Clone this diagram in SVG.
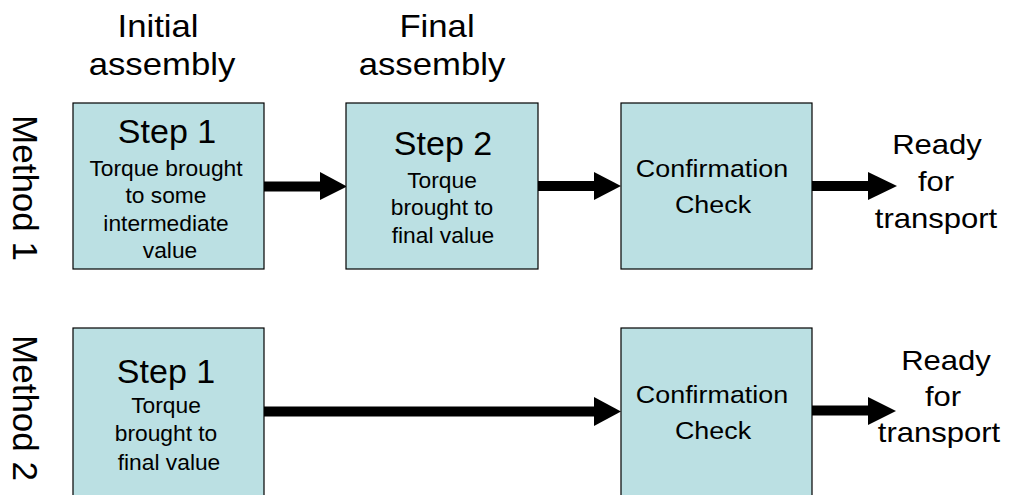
<svg xmlns="http://www.w3.org/2000/svg" width="1016" height="495" viewBox="0 0 1016 495">
<style>
text{font-family:"Liberation Sans",Arial,sans-serif;fill:#000;text-anchor:middle}
.box{fill:#BBE0E3;stroke:#000;stroke-width:1.2}
.hdr{font-size:31px}
.step{font-size:34px}
.sub{font-size:21.5px}
.conf{font-size:24px}
.ready{font-size:27px}
.meth{font-size:35px}
.shaft{stroke:#000;stroke-width:10;fill:none}
.head{fill:#000}
</style>
<rect width="1016" height="495" fill="#fff"/>
<g id="headers">
<text class="hdr" transform="matrix(1.12 0 0 1 158 0)" x="0" y="37">Initial</text>
<text class="hdr" transform="matrix(1.12 0 0 1 162 0)" x="0" y="75">assembly</text>
<text class="hdr" transform="matrix(1.12 0 0 1 437 0)" x="0" y="37">Final</text>
<text class="hdr" transform="matrix(1.12 0 0 1 432 0)" x="0" y="75">assembly</text>
</g>
<g id="method1-label"><text class="meth" transform="translate(13,188) rotate(90)">Method 1</text></g>
<g id="method2-label"><text class="meth" transform="translate(13,408) rotate(90)">Method 2</text></g>
<g id="connectors">
<line class="shaft" x1="264" y1="186.5" x2="322" y2="186.5"/>
<polygon class="head" points="320,172 347,186.5 320,200"/>
<line class="shaft" x1="538" y1="186" x2="596" y2="186"/>
<polygon class="head" points="594,172 621,186 594,200"/>
<line class="shaft" x1="812" y1="186" x2="870" y2="186"/>
<polygon class="head" points="868,172 897,186 868,200"/>
<line class="shaft" x1="264" y1="411.5" x2="596" y2="411.5"/>
<polygon class="head" points="594,397 621,411.5 594,426"/>
<line class="shaft" x1="812" y1="410.5" x2="870" y2="410.5"/>
<polygon class="head" points="868,397 896,411 868,425"/>
</g>
<g id="m1-step1">
<rect class="box" x="73" y="103" width="191" height="166"/>
<text class="step" x="167" y="143">Step 1</text>
<text class="sub" transform="matrix(1.06 0 0 1 166 0)" x="0" y="176">Torque brought</text>
<text class="sub" transform="matrix(1.06 0 0 1 166 0)" x="0" y="203">to some</text>
<text class="sub" transform="matrix(1.06 0 0 1 166 0)" x="0" y="231">intermediate</text>
<text class="sub" transform="matrix(1.06 0 0 1 170 0)" x="0" y="258">value</text>
</g>
<g id="m1-step2">
<rect class="box" x="346" y="103" width="192" height="166"/>
<text class="step" x="443" y="155">Step 2</text>
<text class="sub" transform="matrix(1.06 0 0 1 442 0)" x="0" y="188">Torque</text>
<text class="sub" transform="matrix(1.06 0 0 1 442 0)" x="0" y="215">brought to</text>
<text class="sub" transform="matrix(1.06 0 0 1 443 0)" x="0" y="243">final value</text>
</g>
<g id="m1-check">
<rect class="box" x="621" y="103" width="191" height="166"/>
<text class="conf" transform="matrix(1.12 0 0 1 712 0)" x="0" y="177">Confirmation</text>
<text class="conf" transform="matrix(1.12 0 0 1 713 0)" x="0" y="213">Check</text>
</g>
<g id="m1-ready">
<text class="ready" transform="matrix(1.15 0 0 1 937 0)" x="0" y="154">Ready</text>
<text class="ready" transform="matrix(1.15 0 0 1 936 0)" x="0" y="191">for</text>
<text class="ready" transform="matrix(1.15 0 0 1 936 0)" x="0" y="228">transport</text>
</g>
<g id="m2-step1">
<rect class="box" x="73" y="328" width="191" height="170"/>
<text class="step" x="166" y="383">Step 1</text>
<text class="sub" transform="matrix(1.06 0 0 1 166 0)" x="0" y="413">Torque</text>
<text class="sub" transform="matrix(1.06 0 0 1 166 0)" x="0" y="441">brought to</text>
<text class="sub" transform="matrix(1.06 0 0 1 169 0)" x="0" y="470">final value</text>
</g>
<g id="m2-check">
<rect class="box" x="621" y="328" width="191" height="170"/>
<text class="conf" transform="matrix(1.12 0 0 1 712 0)" x="0" y="403">Confirmation</text>
<text class="conf" transform="matrix(1.12 0 0 1 713 0)" x="0" y="439">Check</text>
</g>
<g id="m2-ready">
<text class="ready" transform="matrix(1.15 0 0 1 946 0)" x="0" y="370">Ready</text>
<text class="ready" transform="matrix(1.15 0 0 1 943 0)" x="0" y="406">for</text>
<text class="ready" transform="matrix(1.15 0 0 1 939 0)" x="0" y="442">transport</text>
</g>
</svg>
